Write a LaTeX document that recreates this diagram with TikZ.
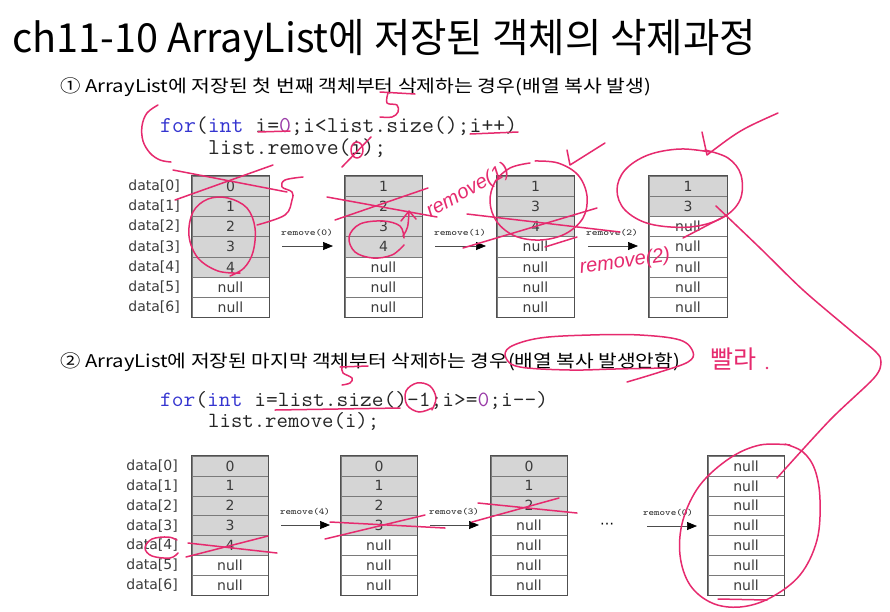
\documentclass[tikz,border=0pt]{standalone}
\usepackage{fontspec}
\usepackage{graphicx}
\setmainfont{Noto Sans CJK KR}
\newfontfamily\cellfont{DejaVu Sans}
\newfontfamily\inkfont{Liberation Sans}
\usetikzlibrary{arrows.meta}

\definecolor{inkred}{HTML}{E62A6E}
\definecolor{cellgray}{HTML}{D5D5D5}
\definecolor{cellline}{HTML}{7A7A7A}
\definecolor{celledge}{HTML}{505050}
\definecolor{celltext}{HTML}{3C3C3C}
\definecolor{kwblue}{HTML}{3535D0}
\definecolor{numpurple}{HTML}{9A3CA8}
\definecolor{codetext}{HTML}{262626}

% one array column: name, left x, top y, cell width, row height, gray cells, values
\newcommand\cellcolumn[7]{%
  \foreach \v [count=\i from 0] in {#7} {%
    \ifnum\i<#6\relax\def\cellfill{cellgray}\else\def\cellfill{white}\fi
    \node[cellbox, minimum width=#4pt, minimum height=#5pt, fill=\cellfill]
      (#1-\i) at ({#2+#4/2}, {#3+(\i+0.5)*#5}) {\v};
  }%
  \draw[line width=0.9pt, draw=celledge] (#1-0.north west) rectangle (#1-6.south east);
}

\begin{document}
\begin{tikzpicture}[x=1pt, y=-1pt,
  cellbox/.style={draw=cellline, line width=0.6pt, inner sep=0pt,
    font=\cellfont\fontsize{14}{14}\selectfont, text=celltext},
  idx/.style={anchor=east, inner sep=0pt, font=\cellfont\fontsize{14}{14}\selectfont, text=celltext},
  steparrow/.style={draw=black!70, line width=0.7pt,
    -{Triangle[length=10pt, width=8pt, color=black]}},
  oplabel/.style={inner sep=0pt, text=codetext},
  codeline/.style={anchor=base west, inner sep=0pt, text=codetext},
  heading/.style={anchor=base west, inner sep=0pt, text=black},
  ink/.style={draw=inkred, line width=1.5pt, line cap=round, line join=round},
  inktext/.style={inner sep=0pt, text=inkred}
]
\fill[white] (0,0) rectangle (890,611);
\useasboundingbox (0,0) rectangle (890,611);

% ---------- headings ----------
\node[heading] (title) at (12,52)
  {\resizebox{744pt}{\height}{\fontsize{40}{48}\selectfont ch11-10 ArrayList에 저장된 객체의 삭제과정}};
\node[heading] (sub1) at (60,92)
  {\resizebox{591pt}{\height}{\fontsize{17.5}{20}\selectfont ① ArrayList에 저장된 첫 번째 객체부터 삭제하는 경우(배열 복사 발생)}};
\node[heading] (sub2) at (60,367)
  {\resizebox{620pt}{\height}{\fontsize{17.5}{20}\selectfont ② ArrayList에 저장된 마지막 객체부터 삭제하는 경우(배열 복사 발생안함)}};

% ---------- code ----------
\node[codeline] (code1a) at (160,132)
  {\resizebox{357pt}{\height}{\ttfamily\fontsize{22.7}{24}\selectfont\textcolor{kwblue}{for}(\textcolor{kwblue}{int} i=\textcolor{numpurple}{0};i<list.size();i++)}};
\node[codeline] (code1b) at (208,154)
  {\resizebox{178pt}{\height}{\ttfamily\fontsize{22.7}{24}\selectfont list.remove(i);}};
\node[codeline] (code2a) at (160,406)
  {\resizebox{388pt}{\height}{\ttfamily\fontsize{21.7}{24}\selectfont\textcolor{kwblue}{for}(\textcolor{kwblue}{int} i=list.size()-1;i>=\textcolor{numpurple}{0};i-{}-)}};
\node[codeline] (code2b) at (208,427)
  {\resizebox{171pt}{\height}{\ttfamily\fontsize{21.7}{24}\selectfont list.remove(i);}};

% ---------- case 1: removing from the front ----------
\foreach \i in {0,...,6}
  \node[idx] (ia\i) at (180,{176+(\i+0.5)*20.2}) {data[\i]};
\cellcolumn{fa}{192}{176}{77}{20.2}{5}{0,1,2,3,4,null,null}
\cellcolumn{fb}{345}{176}{77}{20.2}{4}{1,2,3,4,null,null,null}
\cellcolumn{fc}{497}{176}{77}{20.2}{3}{1,3,4,null,null,null,null}
\cellcolumn{fd}{649}{176}{78}{20.2}{2}{1,3,null,null,null,null,null}

\coordinate (fa0) at (282,246); \coordinate (fa1) at (333,246);
\coordinate (fb0) at (435,246); \coordinate (fb1) at (486,246);
\coordinate (fc0) at (588,246); \coordinate (fc1) at (638,246);
\draw[steparrow] (fa0) -- (fa1);
\draw[steparrow] (fb0) -- (fb1);
\draw[steparrow] (fc0) -- (fc1);
\node[oplabel] (fla) at (307,233) {\resizebox{52pt}{\height}{\ttfamily\fontsize{9}{9}\selectfont remove(0)}};
\node[oplabel] (flb) at (460,233) {\resizebox{52pt}{\height}{\ttfamily\fontsize{9}{9}\selectfont remove(1)}};
\node[oplabel] (flc) at (612,233) {\resizebox{52pt}{\height}{\ttfamily\fontsize{9}{9}\selectfont remove(2)}};

% ---------- case 2: removing from the back ----------
\foreach \i in {0,...,6}
  \node[idx] (ib\i) at (178,{456+(\i+0.5)*19.9}) {data[\i]};
\cellcolumn{ba}{192}{456}{76}{19.9}{5}{0,1,2,3,4,null,null}
\cellcolumn{bb}{341}{456}{76}{19.9}{4}{0,1,2,3,null,null,null}
\cellcolumn{bc}{491}{456}{76}{19.9}{3}{0,1,2,null,null,null,null}
\cellcolumn{bd}{708}{456}{76}{19.9}{0}{null,null,null,null,null,null,null}

\coordinate (ba0) at (281,525); \coordinate (ba1) at (330,525);
\coordinate (bb0) at (430,525); \coordinate (bb1) at (479,525);
\coordinate (bc0) at (647,526); \coordinate (bc1) at (697,526);
\draw[steparrow] (ba0) -- (ba1);
\draw[steparrow] (bb0) -- (bb1);
\draw[steparrow] (bc0) -- (bc1);
\node[oplabel] (bla) at (305,512) {\resizebox{50pt}{\height}{\ttfamily\fontsize{9}{9}\selectfont remove(4)}};
\node[oplabel] (blb) at (454,512) {\resizebox{50pt}{\height}{\ttfamily\fontsize{9}{9}\selectfont remove(3)}};
\node[oplabel] (blc) at (668,513) {\resizebox{50pt}{\height}{\ttfamily\fontsize{9}{9}\selectfont remove(0)}};
\node[inner sep=0pt, font=\cellfont\fontsize{14}{14}\selectfont, text=black] (dots) at (607,526) {⋯};

% ---------- pen marks, case 1 ----------
\draw[ink] plot[smooth, tension=0.6] coordinates {(158,105) (147,113) (142,126) (143,141) (150,153) (160,160) (171,162)};
\draw[ink] (380,92) -- (415,94);
\draw[ink] plot[smooth, tension=0.6] coordinates {(388,93) (387,103) (397,105) (398,112) (392,117) (380,117)};
\draw[ink] (258,132) -- (290,131);
\draw[ink] (470,134) -- (518,132);
\draw[ink] (357,150) ellipse [x radius=6, y radius=8];
\draw[ink] (342,167) -- (371,137);
\draw[ink] (173,170) -- (287,192);
\draw[ink] (175,200) -- (273,165);
\draw[ink] plot[smooth, tension=0.6] coordinates {(257,225) (285,215) (292,200) (292,192) (282,187) (285,180) (303,177)};
\draw[ink] plot[smooth, tension=0.6] coordinates {(240,273) (218,271) (198,258) (189,236) (193,212) (208,199) (228,198) (247,208) (255,228) (253,252) (244,268) (230,276)};
\draw[ink] (327,197) -- (437,217);
\draw[ink] (335,220) -- (428,188);
\draw[ink] plot[smooth, tension=0.6] coordinates {(404,238) (400,226) (383,221) (360,224) (349,237) (355,252) (373,258) (392,255) (404,245)};
\draw[ink] (403,236) .. controls (408,228) .. (409,212);
\draw[ink] (401,221) -- (409,211) -- (416,219);
\node[inktext, rotate=29, font=\inkfont\itshape\fontsize{20}{20}\selectfont] (note1) at (468,191) {remove(1)};
\draw[ink] (467,214) -- (620,232);
\draw[ink] (463,248) -- (597,208);
\draw[ink] plot[smooth, tension=0.6] coordinates {(530,163) (510,168) (495,182) (490,202) (497,222) (515,236) (540,240) (565,234) (583,218) (587,196) (578,175) (558,163) (535,161)};
\draw[ink] (545,247) -- (577,237);
\draw[ink] (567,150) -- (570,165) -- (605,143);
\node[inktext, rotate=8, font=\inkfont\itshape\fontsize{20}{20}\selectfont] (note2) at (625,262) {remove(2)};
\draw[ink] plot[smooth, tension=0.6] coordinates {(710,152) (680,149) (648,155) (625,170) (617,190) (625,210) (650,224) (690,227) (722,218) (740,200) (741,175) (728,158) (705,150)};
\draw[ink] (702,132) -- (707,155) .. controls (740,130) .. (778,113);
\draw[ink] (683,238) -- (727,215);
\draw[ink] plot[smooth, tension=0.5] coordinates {(716,206) (760,248) (803,290) (850,330) (876,352) (881,362) (874,378) (830,420) (777,478)};

% ---------- pen marks, case 2 ----------
\draw[ink] (340,367) -- (368,366);
\draw[ink] plot[smooth, tension=0.6] coordinates {(342,368) (343,373) (352,378) (350,383) (342,385)};
\draw[ink] (275,410) -- (400,408);
\draw[ink] plot[smooth, tension=0.6] coordinates {(432,410) (436,398) (430,386) (417,383) (406,391) (407,405) (419,412) (432,408)};
\draw[ink] plot[smooth, tension=0.6] coordinates {(627,382) (660,372) (688,362) (693,352) (680,340) (640,335) (590,335) (540,338) (510,347) (506,358) (520,367) (570,370) (615,369) (667,368)};
\node[inktext, font=\fontsize{25}{25}\selectfont] (note3) at (733,359) {빨라};
\fill[inkred] (767,368) circle [radius=1.3];
\draw[ink] plot[smooth, tension=0.6] coordinates {(177,540) (168,537) (152,539) (145,548) (152,556) (170,558) (178,553)};
\draw[ink] (188,543) -- (277,553);
\draw[ink] (186,557) -- (268,536);
\draw[ink] (330,522) -- (445,528);
\draw[ink] (325,539) -- (425,515);
\draw[ink] (478,503) -- (577,513);
\draw[ink] (472,522) -- (559,498);
\draw[ink] plot[smooth, tension=0.6] coordinates {(790,445) (760,445) (730,458) (700,485) (683,520) (680,555) (690,585) (712,603) (740,607) (770,598) (800,575) (817,540) (820,500) (815,470) (803,452) (785,444)};
\draw[ink] (718,599) -- (767,600);
\end{tikzpicture}
\end{document}
